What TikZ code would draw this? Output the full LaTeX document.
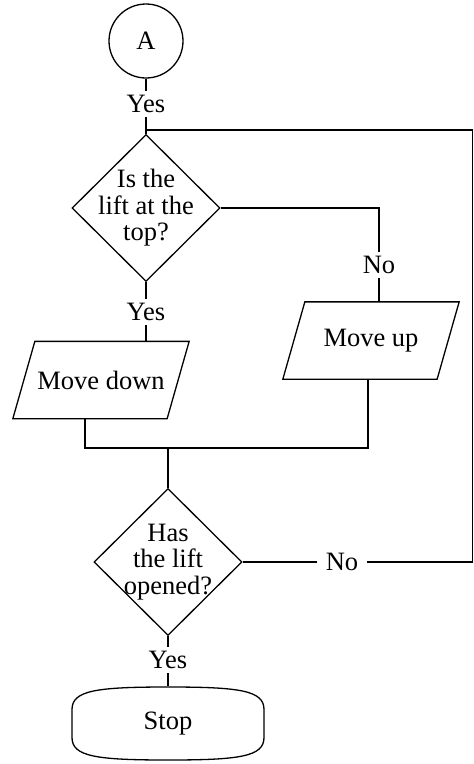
\documentclass[tikz,border=0pt]{standalone}
\usepackage{fontspec}
\setmainfont{Liberation Serif}
\usetikzlibrary{shapes.geometric,calc}
\begin{document}
\begin{tikzpicture}[x=1pt,y=-1pt,line width=1.3pt,
  every node/.style={font=\fontsize{26.5}{25.5}\selectfont},
  conn/.style={circle,draw,minimum size=74pt,inner sep=0pt},
  dec/.style={diamond,draw,aspect=1,minimum width=148pt,minimum height=147pt,inner sep=-9pt,align=center,font=\fontsize{26.5}{26.5}\selectfont},
  io/.style={rectangle,minimum width=153pt,minimum height=76pt,inner sep=0pt},
  term/.style={rectangle,minimum width=192pt,minimum height=73pt},
  lbl/.style={inner sep=4pt}]
\useasboundingbox (0,0) rectangle (474,764);
\node[conn] (a) at (146,41) {A};
\node[dec] (d1) at (146,208) {Is the\\lift at the\\top?};
\node[io] (md) at (101,380) {Move down};
\node[io] (mu) at (371,340.5) {Move up};
\node[dec] (d2) at (168,562) {Has\\the lift\\opened?};
\node[term] (stop) at (168,723.5) {Stop};
\coordinate (m) at (168,448);
\coordinate (r) at (472.5,130);
\node[lbl] (y1) at (146,104) {Yes};
\node[lbl] (n1) at (379,265) {No};
\node[lbl] (y2) at (146,312) {Yes};
\node[lbl,inner xsep=8pt] (n2) at (342,562) {No};
\node[lbl] (y3) at (168,660) {Yes};
% parallelograms
\foreach \p in {md,mu}{
  \draw ([xshift=11pt]\p.north west) -- ([xshift=11pt]\p.north east)
        -- ([xshift=-11pt]\p.south east) -- ([xshift=-11pt]\p.south west) -- cycle;
}
% connectors
\draw (a) -- (y1) -- (d1.north);
\draw (d1.east) -| (n1);
\draw (n1) -- (n1 |- mu.north);
\draw (d1.south) -- (y2) -- (y2 |- md.north);
\draw ([xshift=-16pt]md.south) |- (m) -| ([xshift=-3pt]mu.south);
\draw (m) -- (d2.north);
\draw (d2.east) -- (n2);
\draw (n2) -| (r) -- (r -| d1.north);
\draw (d2.south) -- (y3) -- (stop.north);
% terminal shape
\begin{scope}[shift={(stop.center)}]
\draw (-96pt,-14pt) -- (-96pt,14pt) .. controls (-96pt,33pt) and (-72pt,36.5pt) .. (0pt,36.5pt)
  .. controls (72pt,36.5pt) and (96pt,33pt) .. (96pt,14pt) -- (96pt,-14pt)
  .. controls (96pt,-33pt) and (72pt,-36.5pt) .. (0pt,-36.5pt)
  .. controls (-72pt,-36.5pt) and (-96pt,-33pt) .. cycle;
\end{scope}
\end{tikzpicture}
\end{document}
